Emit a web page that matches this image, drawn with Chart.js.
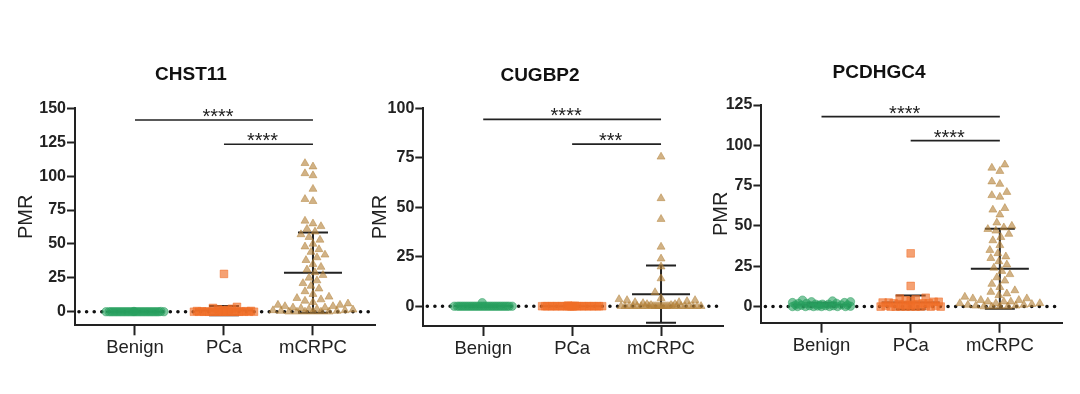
<!DOCTYPE html>
<html lang="en">
<head>
<meta charset="UTF-8">
<title>PMR by group</title>
<script src="https://cdn.jsdelivr.net/npm/chart.js"></script>
<style>
  body { margin: 0; background: #fff; width: 1080px; height: 394px; overflow: hidden; position: relative; }
  .panel { position: absolute; top: 0; height: 394px; }
  .panel canvas { display: block; }
</style>
</head>
<body>
<div class="panel" style="left:7px;width:378px"><canvas id="c1"></canvas></div>
<div class="panel" style="left:357px;width:376px"><canvas id="c2"></canvas></div>
<div class="panel" style="left:696px;width:376px"><canvas id="c3"></canvas></div>

<script>
  // groups on the x axis
  const groups = ['Benign', 'PCa', 'mCRPC'];

  // --- CHST11 ---
  const chst11Benign = [0, 0, 0, 0, 0, 0, 0, 0, 0, 0, 0, 0, 0, 0, 0, 0, 0, 0, 0, 0, 0, 0, 0, 0, 0, 0, 0, 0, 0.2, 0.2];
  const chst11PCa = [27.9, 3.6, 2.8, 2.2, 1.8, 1.5, 1.2, 1.0, 0.8, 0.6, 0.5, 0.4, 0.3, 0.2, 0.1,
    0, 0, 0, 0, 0, 0, 0, 0, 0, 0, 0, 0, 0, 0, 0, 0, 0, 0, 0];
  const chst11MCRPC = [109.5, 107, 102, 100.5, 90.5, 83, 81.5, 67, 65, 63, 61, 59, 57, 55, 53, 50, 48, 46, 44, 42, 40,
    38, 35, 33, 31, 29, 27, 25, 23, 21, 19, 17, 15, 13, 11, 10, 9, 8, 7, 6, 5, 5, 4, 4, 3, 3, 2.5, 2, 2, 1.5, 1, 1,
    0.5, 0.5, 0, 0, 0, 0, 0, 0];
  const chst11Mean = [0, 0.9, 28.8];
  const chst11SD = [0, 3.4, 29.6];
  const chst11Ticks = [0, 25, 50, 75, 100, 125, 150];

  // --- CUGBP2 ---
  const cugbp2Benign = [1.8, 0, 0, 0, 0, 0, 0, 0, 0, 0, 0, 0, 0, 0, 0, 0, 0, 0, 0, 0, 0, 0, 0, 0, 0, 0, 0, 0, 0, 0];
  const cugbp2PCa = [0.3, 0.2, 0, 0, 0, 0, 0, 0, 0, 0, 0, 0, 0, 0, 0, 0, 0, 0, 0, 0, 0, 0, 0, 0, 0, 0, 0, 0, 0, 0];
  const cugbp2MCRPC = [75.5, 54.5, 44, 30, 24, 20, 14, 7, 4, 3.5, 3, 3, 2.5, 2, 2, 1.5, 1, 1, 0.5, 0.5,
    0, 0, 0, 0, 0, 0, 0, 0, 0, 0, 0, 0, 0, 0, 0, 0, 0, 0, 0, 0, 0, 0, 0, 0, 0];
  const cugbp2Mean = [0.05, 0, 6.1];
  const cugbp2SD = [0.3, 0, 14.5];
  const cugbp2Ticks = [0, 25, 50, 75, 100];

  // --- PCDHGC4 ---
  const pcdhgc4Benign = [4, 3.5, 3, 3, 2.5, 2.5, 2, 2, 2, 1.5, 1.5, 1.5, 1, 1, 1, 1, 0.8, 0.5, 0.5, 0.5, 0.3, 0.2,
    0, 0, 0, 0, 0, 0, 0, 0];
  const pcdhgc4PCa = [33, 12.8, 5.5, 5, 4.5, 4, 3.5, 3, 3, 2.5, 2.5, 2, 2, 2, 1.5, 1.5, 1, 1, 1, 0.5, 0.5, 0.5,
    0, 0, 0, 0, 0, 0, 0, 0, 0, 0];
  const pcdhgc4MCRPC = [88, 86, 84, 77.5, 76, 71, 69, 68, 61, 60, 57, 52, 50, 49, 48, 47, 45, 43, 41, 38, 35, 33, 31,
    30, 28, 26, 24, 22, 20, 18, 16, 14, 12, 10, 9, 8, 7, 6, 5, 5, 4, 4, 3, 3, 3, 2, 2, 2, 1.5, 1, 1, 0.5, 0.5,
    0, 0, 0, 0];
  const pcdhgc4Mean = [1.2, 2.6, 23.4];
  const pcdhgc4SD = [1.1, 4.2, 24.8];
  const pcdhgc4Ticks = [0, 25, 50, 75, 100, 125];

  // marker look per group
  const markerStyle = ['circle', 'rect', 'triangle'];
  const markerRadius = [4.2, 5.4, 4.6];
  const markerFill = ['rgba(40,160,95,0.6)', 'rgba(240,110,40,0.65)', 'rgba(180,130,60,0.62)'];
  const swarmWidth = [58, 60, 84];

  const ink = '#222';
  const fontFam = "'Liberation Sans', Arial, sans-serif";

  // zero line, mean +/- SD, significance brackets
  const decor = {
    id: 'decor',
    beforeDatasetsDraw(chart, args, opts) {
      const {ctx, chartArea, scales: {x, y}} = chart;
      ctx.save();
      // dotted line at 0
      const y0 = y.getPixelForValue(0);
      ctx.strokeStyle = '#111';
      ctx.lineWidth = 3.6;
      ctx.lineCap = 'round';
      ctx.setLineDash([0.01, 7.6]);
      ctx.beginPath();
      ctx.moveTo(chartArea.left + 4, y0);
      ctx.lineTo(chartArea.right, y0);
      ctx.stroke();
      ctx.setLineDash([]);
      ctx.lineCap = 'butt';
      // mean and SD
      ctx.strokeStyle = ink;
      ctx.lineWidth = 2;
      opts.means.forEach((m, i) => {
        const cx = x.getPixelForValue(i + 1);
        const yt = y.getPixelForValue(m + opts.sds[i]);
        const yb = y.getPixelForValue(m - opts.sds[i]);
        const ym = y.getPixelForValue(m);
        ctx.beginPath();
        ctx.moveTo(cx, yt); ctx.lineTo(cx, yb);
        ctx.moveTo(cx - 15, yt); ctx.lineTo(cx + 15, yt);
        ctx.moveTo(cx - 15, yb); ctx.lineTo(cx + 15, yb);
        ctx.moveTo(cx - 29, ym); ctx.lineTo(cx + 29, ym);
        ctx.stroke();
      });
      ctx.restore();
    },
    afterDatasetsDraw(chart, args, opts) {
      const {ctx, scales: {x, y}} = chart;
      ctx.save();
      ctx.strokeStyle = ink;
      ctx.fillStyle = ink;
      ctx.lineWidth = 1.6;
      ctx.font = '20px ' + fontFam;
      ctx.textAlign = 'center';
      ctx.textBaseline = 'alphabetic';
      opts.brackets.forEach(b => {
        const x1 = x.getPixelForValue(b.from), x2 = x.getPixelForValue(b.to);
        const yy = y.getPixelForValue(b.level);
        ctx.beginPath();
        ctx.moveTo(x1, yy); ctx.lineTo(x2, yy);
        ctx.stroke();
        ctx.fillText(b.label, (x1 + x2) / 2 - 6, yy + 3);
      });
      ctx.restore();
    }
  };

  // beeswarm: put each point at the nearest free spot to the column centre,
  // inside a limited width; when full, take the spot with least overlap
  function swarm(chart) {
    const xs = chart.scales.x, ys = chart.scales.y;
    const pxPerUnit = xs.getPixelForValue(2) - xs.getPixelForValue(1);
    chart.data.datasets.forEach((ds, i) => {
      const d = markerRadius[i] * 1.7;
      const half = swarmWidth[i] / 2;
      const cands = [0];
      for (let o = 1; o <= half; o++) cands.push(-o, o);
      const order = ds.data.map((p, k) => k).sort((a, b) => ds.data[a].y - ds.data[b].y);
      const placed = [];
      order.forEach(k => {
        const py = ys.getPixelForValue(ds.data[k].y);
        let best = 0, bestDist = -1;
        for (const o of cands) {
          let md = Infinity;
          for (const q of placed) {
            const dy = q.py - py;
            if (Math.abs(dy) >= d) continue;
            md = Math.min(md, Math.hypot(q.ox - o, dy));
          }
          if (md >= d) { best = o; bestDist = md; break; }
          if (md > bestDist) { bestDist = md; best = o; }
        }
        placed.push({ ox: best, py });
        ds.data[k].x = i + 1 + best / pxPerUnit;
      });
    });
    chart.update('none');
  }

  function makeChart(id, title, series, means, sds, yTicks, brackets, geo) {
    const datasets = series.map((vals, i) => ({
      label: groups[i],
      data: vals.map(v => ({x: i + 1, y: v})),
      pointStyle: markerStyle[i],
      pointRadius: markerRadius[i],
      backgroundColor: markerFill[i],
      borderColor: markerFill[i],
      borderWidth: 0.8
    }));

    const chart = new Chart(document.getElementById(id), {
      type: 'scatter',
      data: { datasets },
      options: {
        responsive: true,
        maintainAspectRatio: false,
        animation: false,
        layout: { padding: { right: 10, left: 0, top: 0, bottom: 0 } },
        plugins: {
          legend: { display: false },
          tooltip: { enabled: false },
          title: {
            display: true,
            text: title,
            color: '#111',
            font: { family: fontFam, size: 19, weight: 'bold' },
            padding: { top: geo.titleTop, bottom: geo.titleBottom }
          },
          decor: { means, sds, brackets }
        },
        scales: {
          x: {
            type: 'linear',
            min: 0.326,
            max: 3.697,
            afterBuildTicks: s => { s.ticks = [1, 2, 3].map(v => ({ value: v })); },
            afterFit: s => { s.height = geo.xh; },
            ticks: {
              callback: v => groups[v - 1],
              color: ink,
              font: { family: fontFam, size: 18.5 },
              padding: 2,
              autoSkip: false,
              maxRotation: 0
            },
            grid: { drawOnChartArea: false, drawTicks: true, tickLength: 10, tickWidth: 2, tickColor: ink },
            border: { display: true, color: ink, width: 2 }
          },
          y: {
            min: -10,
            max: yTicks[yTicks.length - 1],
            afterBuildTicks: s => { s.ticks = yTicks.map(v => ({ value: v })); },
            afterFit: s => { s.width = geo.yw; },
            ticks: {
              color: ink,
              font: { family: fontFam, size: 16, weight: 'bold' },
              padding: 1
            },
            grid: { drawOnChartArea: false, drawTicks: true, tickLength: 8, tickWidth: 2, tickColor: ink },
            border: { display: true, color: ink, width: 2 },
            title: {
              display: true,
              text: 'PMR',
              color: ink,
              font: { family: fontFam, size: 20 },
              padding: { top: geo.pmrPad, bottom: 0 }
            }
          }
        }
      },
      plugins: [decor]
    });
    swarm(chart);
    return chart;
  }

  makeChart('c1', 'CHST11', [chst11Benign, chst11PCa, chst11MCRPC], chst11Mean, chst11SD, chst11Ticks,
    [{ from: 1, to: 3, level: 141.4, label: '****' }, { from: 2, to: 3, level: 123.5, label: '****' }],
    { yw: 68, xh: 68.7, titleTop: 63.5, titleBottom: 22, pmrPad: 7 });

  makeChart('c2', 'CUGBP2', [cugbp2Benign, cugbp2PCa, cugbp2MCRPC], cugbp2Mean, cugbp2SD, cugbp2Ticks,
    [{ from: 1, to: 3, level: 94.4, label: '****' }, { from: 2, to: 3, level: 81.9, label: '***' }],
    { yw: 66.3, xh: 68, titleTop: 64.5, titleBottom: 21, pmrPad: 11 });

  makeChart('c3', 'PCDHGC4', [pcdhgc4Benign, pcdhgc4PCa, pcdhgc4MCRPC], pcdhgc4Mean, pcdhgc4SD, pcdhgc4Ticks,
    [{ from: 1, to: 3, level: 117.8, label: '****' }, { from: 2, to: 3, level: 102.9, label: '****' }],
    { yw: 65.4, xh: 71.3, titleTop: 61, titleBottom: 21.2, pmrPad: 13 });
</script>
</body>
</html>
